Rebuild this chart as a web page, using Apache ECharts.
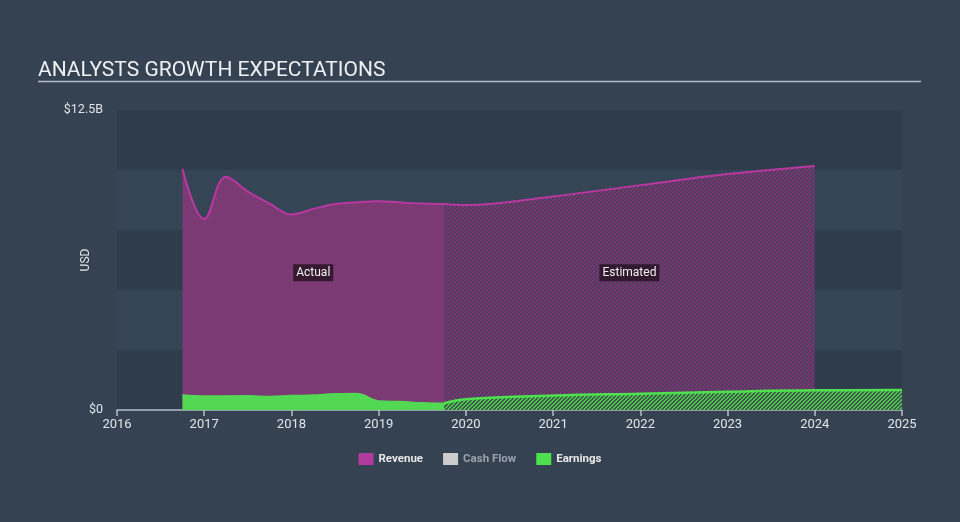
<!DOCTYPE html>
<html>
<head>
<meta charset="utf-8">
<script src="https://cdn.jsdelivr.net/npm/echarts@6/dist/echarts.min.js"></script>
<style>
html,body{margin:0;padding:0;background:#344251;}
#c{width:960px;height:522px;}
</style>
</head>
<body>
<div id="c"></div>
<script>
// ---- data ----
var xTicks = [2016, 2017, 2018, 2019, 2020, 2021, 2022, 2023, 2024, 2025];
var revenueActual = [
  [2016.75, 10.05], [2017.0, 7.96], [2017.25, 9.72], [2017.5, 9.1], [2017.75, 8.6],
  [2018.0, 8.15], [2018.25, 8.38], [2018.5, 8.58], [2018.75, 8.66], [2019.0, 8.7],
  [2019.25, 8.65], [2019.5, 8.6], [2019.75, 8.58]
];
var revenueEstimated = [
  [2019.75, 8.58], [2020.0, 8.54], [2021.0, 8.9], [2022.0, 9.37], [2023.0, 9.83], [2024.0, 10.17]
];
var earningsActual = [
  [2016.75, 0.62], [2017.0, 0.58], [2017.5, 0.59], [2017.75, 0.56], [2018.0, 0.6],
  [2018.25, 0.62], [2018.5, 0.68], [2018.75, 0.69], [2019.0, 0.38], [2019.25, 0.35],
  [2019.5, 0.3], [2019.75, 0.28]
];
var earningsEstimated = [
  [2019.75, 0.28], [2020.0, 0.45], [2021.0, 0.6], [2022.0, 0.68], [2023.0, 0.76], [2024.0, 0.82], [2025.0, 0.83]
];
var yTickLabels = {0: '$0', 12.5: '$12.5B'};

function hatch(bg, fg) {
  var s = 4;
  var cv = document.createElement('canvas');
  cv.width = s; cv.height = s;
  var ctx = cv.getContext('2d');
  ctx.fillStyle = bg; ctx.fillRect(0, 0, s, s);
  ctx.fillStyle = fg;
  for (var x = 0; x < s; x++) for (var y = 0; y < s; y++) {
    if ((x + y) % s < 2) ctx.fillRect(x, y, 1, 1);
  }
  return {image: cv, repeat: 'repeat'};
}

var chart = echarts.init(document.getElementById('c'));
var font = 'Roboto, sans-serif';
chart.setOption({
  backgroundColor: '#344251',
  animation: false,
  textStyle: {fontFamily: font},
  title: {
    text: 'ANALYSTS GROWTH EXPECTATIONS',
    left: 33, top: 55,
    textStyle: {color: '#eef0f2', fontSize: 21, fontWeight: 'normal', fontFamily: font}
  },
  graphic: [{
    type: 'line', shape: {x1: 38, y1: 81.5, x2: 921, y2: 81.5},
    style: {stroke: '#b4bcc4', lineWidth: 1.5}
  }, {
    type: 'text', x: 86, y: 260, rotation: Math.PI / 2,
    style: {text: 'USD', fill: '#e2e5e8', font: '12px Roboto, sans-serif', textAlign: 'center', textVerticalAlign: 'middle'}
  }],
  legend: {
    bottom: 52, left: 'center',
    itemWidth: 15, itemHeight: 12, itemGap: 20,
    icon: 'rect',
    data: [
      {name: 'Revenue', textStyle: {color: '#e8e8e8'}},
      {name: 'Cash Flow', textStyle: {color: '#9aa3ad'}},
      {name: 'Earnings', textStyle: {color: '#e8e8e8'}}
    ],
    textStyle: {fontSize: 11.5, fontFamily: font, fontWeight: 'bold'}
  },
  grid: {left: 117, right: 58, top: 110, bottom: 112},
  xAxis: {
    type: 'value', min: 2016, max: 2025, interval: 1,
    axisLine: {lineStyle: {color: '#b7bec6', width: 1.5}},
    axisTick: {show: true, length: 6, lineStyle: {color: '#b7bec6', width: 1.5}},
    axisLabel: {color: '#e2e5e8', fontSize: 13, margin: 8, formatter: function (v) { return xTicks.indexOf(v) >= 0 ? String(v) : ''; }},
    splitLine: {show: false}
  },
  yAxis: {
    type: 'value', min: 0, max: 12.5, interval: 2.5,
    axisLine: {show: false}, axisTick: {show: false},
    axisLabel: {color: '#e2e5e8', fontSize: 12.5, margin: 14,
      formatter: function (v) { return yTickLabels[v] !== undefined ? yTickLabels[v] : ''; }},
    splitLine: {show: false},
    splitArea: {show: true, areaStyle: {color: ['#2f3c4b', '#354555']}}
  },
  series: [
    {
      name: 'Revenue', type: 'line', data: revenueActual, smooth: 0.4, symbol: 'none',
      itemStyle: {color: '#b03a9e'},
      lineStyle: {color: '#b8389f', width: 2},
      areaStyle: {color: '#7c3a75', opacity: 1},
      z: 2,
      markPoint: {
        symbol: 'rect', symbolSize: 0,
        label: {show: true, position: 'inside', formatter: 'Actual', color: '#f0f0f0', fontSize: 12,
          backgroundColor: 'rgba(40,20,38,0.85)', padding: [3, 3, 2, 3]},
        data: [{coord: [2018.25, 5.72]}]
      }
    },
    {
      name: 'Revenue', type: 'line', data: revenueEstimated, smooth: 0.4, symbol: 'none',
      itemStyle: {color: '#b03a9e'},
      lineStyle: {color: '#b8389f', width: 2},
      areaStyle: {color: hatch('#4b3a5c', '#7c3a75'), opacity: 1},
      z: 2,
      markPoint: {
        symbol: 'rect', symbolSize: 0,
        label: {show: true, position: 'inside', formatter: 'Estimated', color: '#f0f0f0', fontSize: 12,
          backgroundColor: 'rgba(40,20,38,0.85)', padding: [3, 3, 2, 3]},
        data: [{coord: [2021.875, 5.72]}]
      }
    },
    {
      name: 'Cash Flow', type: 'line', data: [], symbol: 'none',
      itemStyle: {color: '#cccccc'}
    },
    {
      name: 'Earnings', type: 'line', data: earningsActual, smooth: 0.4, symbol: 'none',
      itemStyle: {color: '#4fe04f'},
      lineStyle: {color: '#53d853', width: 1.5},
      areaStyle: {color: '#53d853', opacity: 1},
      z: 3
    },
    {
      name: 'Earnings', type: 'line', data: earningsEstimated, smooth: 0.4, symbol: 'none',
      itemStyle: {color: '#4fe04f'},
      lineStyle: {color: '#4ee04e', width: 2.5},
      areaStyle: {color: hatch('#3a5a48', '#4fc24f'), opacity: 1},
      z: 3
    }
  ]
});
</script>
</body>
</html>
